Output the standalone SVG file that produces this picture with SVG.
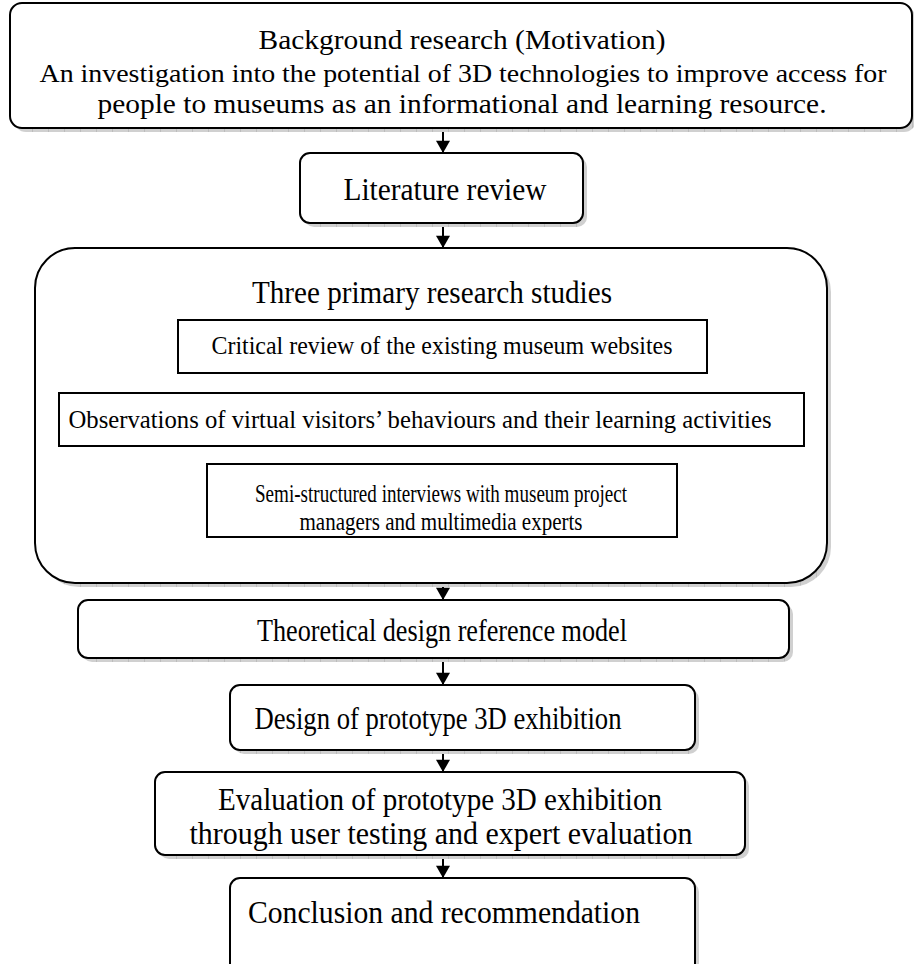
<svg xmlns="http://www.w3.org/2000/svg" width="914" height="964" viewBox="0 0 914 964">
  <defs>
    <pattern id="shadeGrid" width="16" height="16" patternUnits="userSpaceOnUse">
      <rect width="16" height="16" fill="#d0d0d0"/>
      <path d="M0 0V16" stroke="#a8a8a8" stroke-width="1"/>
    </pattern>
    <marker id="arrow" viewBox="0 0 14 16" refX="14" refY="8" markerWidth="16" markerHeight="14" markerUnits="userSpaceOnUse" orient="auto">
      <path d="M0 0L14 8L0 16Z" fill="#000"/>
    </marker>
  </defs>
  <style>
    .box { fill: #fff; stroke: #000; stroke-width: 2; }
    .inner { fill: #fff; stroke: #000; stroke-width: 2; }
    .shadow { fill: url(#shadeGrid); }
    .t { font-family: "Liberation Serif", "Times New Roman", serif; fill: #000; text-anchor: middle; }
    .big { font-size: 31px; }
    .mid { font-size: 27px; }
    .small { font-size: 26px; }
    .link { stroke: #000; stroke-width: 2; fill: none; marker-end: url(#arrow); }
  </style>

  <rect width="914" height="964" fill="#fff"/>

  <!-- connectors -->
  <g id="connectors">
    <line class="link" x1="443" y1="128" x2="443" y2="153"/>
    <line class="link" x1="443" y1="223" x2="443" y2="248"/>
    <line class="link" x1="443" y1="373" x2="443" y2="393"/>
    <line class="link" x1="443" y1="446" x2="443" y2="464"/>
    <line class="link" x1="443" y1="583" x2="443" y2="600"/>
    <line class="link" x1="443" y1="658" x2="443" y2="685"/>
    <line class="link" x1="443" y1="750" x2="443" y2="772"/>
    <line class="link" x1="443" y1="855" x2="443" y2="878"/>
  </g>

  <!-- background research -->
  <g id="background">
    <rect class="shadow" x="14" y="7" width="902" height="125" rx="12"/>
    <rect class="box" x="10" y="3" width="902" height="125" rx="12"/>
    <text class="t mid" x="462" y="49" textLength="407" lengthAdjust="spacingAndGlyphs">Background research (Motivation)</text>
    <text class="t" font-size="25.5" x="463" y="82" textLength="847" lengthAdjust="spacingAndGlyphs">An investigation into the potential of 3D technologies to improve access for</text>
    <text class="t mid" x="462" y="113" textLength="729" lengthAdjust="spacingAndGlyphs">people to museums as an informational and learning resource.</text>
  </g>

  <!-- literature review -->
  <g id="literature">
    <rect class="shadow" x="304" y="157" width="283" height="70" rx="10"/>
    <rect class="box" x="300" y="153" width="283" height="70" rx="10"/>
    <text class="t big" x="445" y="200" textLength="203" lengthAdjust="spacingAndGlyphs">Literature review</text>
  </g>

  <!-- primary studies container -->
  <g id="studies">
    <rect class="shadow" x="39" y="252" width="792" height="335" rx="40"/>
    <rect class="box" x="35" y="248" width="792" height="335" rx="40"/>
    <text class="t big" x="432" y="303" textLength="360" lengthAdjust="spacingAndGlyphs">Three primary research studies</text>
  </g>

  <g id="critical">
    <rect class="inner" x="178" y="320" width="529" height="53"/>
    <text class="t small" x="442" y="354" textLength="461" lengthAdjust="spacingAndGlyphs">Critical review of the existing museum websites</text>
  </g>

  <g id="observations">
    <rect class="inner" x="59" y="393" width="745" height="53"/>
    <text class="t small" x="420" y="428" textLength="703" lengthAdjust="spacingAndGlyphs">Observations of virtual visitors’ behaviours and their learning activities</text>
  </g>

  <g id="interviews">
    <rect class="inner" x="207" y="464" width="470" height="73"/>
    <text class="t small" x="441" y="502" textLength="372" lengthAdjust="spacingAndGlyphs">Semi-structured interviews with museum project</text>
    <text class="t small" x="441" y="530" textLength="283" lengthAdjust="spacingAndGlyphs">managers and multimedia experts</text>
  </g>

  <!-- theoretical model -->
  <g id="theoretical">
    <rect class="shadow" x="82" y="604" width="711" height="58" rx="10"/>
    <rect class="box" x="78" y="600" width="711" height="58" rx="10"/>
    <text class="t big" x="442" y="641" textLength="370" lengthAdjust="spacingAndGlyphs">Theoretical design reference model</text>
  </g>

  <!-- design -->
  <g id="design">
    <rect class="shadow" x="234" y="689" width="465" height="65" rx="10"/>
    <rect class="box" x="230" y="685" width="465" height="65" rx="10"/>
    <text class="t big" x="438" y="729" textLength="367" lengthAdjust="spacingAndGlyphs">Design of prototype 3D exhibition</text>
  </g>

  <!-- evaluation -->
  <g id="evaluation">
    <rect class="shadow" x="159" y="776" width="590" height="83" rx="10"/>
    <rect class="box" x="155" y="772" width="590" height="83" rx="10"/>
    <text class="t big" x="440" y="810" textLength="444" lengthAdjust="spacingAndGlyphs">Evaluation of prototype 3D exhibition</text>
    <text class="t big" x="441" y="844" textLength="503" lengthAdjust="spacingAndGlyphs">through user testing and expert evaluation</text>
  </g>

  <!-- conclusion -->
  <g id="conclusion">
    <rect class="shadow" x="234" y="882" width="465" height="100" rx="10"/>
    <rect class="box" x="230" y="878" width="465" height="100" rx="10"/>
    <text class="t big" x="444" y="923" textLength="392" lengthAdjust="spacingAndGlyphs">Conclusion and recommendation</text>
  </g>
</svg>
